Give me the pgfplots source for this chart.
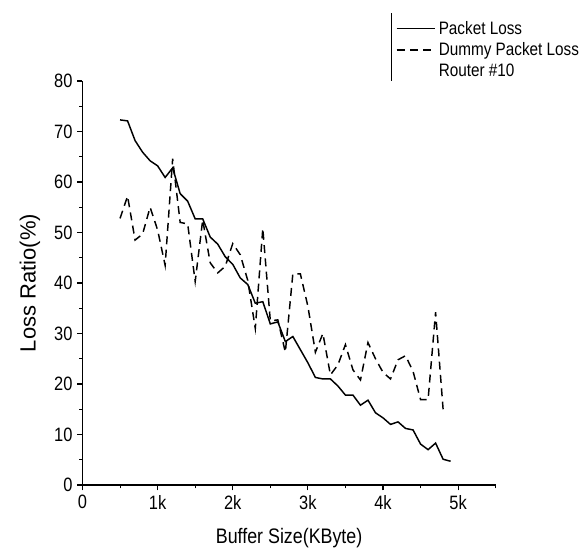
\documentclass[border=0pt]{standalone}
\usepackage{fontspec}
\setmainfont{Liberation Sans}[FakeStretch=0.85]
\newfontfamily\ylfont{Liberation Sans}
\usepackage{pgfplots}
\usepackage{pgfplotstable}
\pgfplotsset{compat=1.18}
\pgfplotstableread{
x y
500 72.3
600 72.1
700 68.2
800 65.9
900 64.2
1000 63.2
1100 60.9
1200 62.8
1300 57.7
1400 56.2
1500 52.7
1600 52.7
1700 49.1
1800 47.7
1900 45.2
2000 43.7
2100 41.0
2200 39.7
2300 36.0
2400 36.3
2500 31.9
2600 32.3
2700 28.4
2800 29.4
2900 26.8
3000 24.2
3100 21.3
3200 21.0
3300 21.0
3400 19.6
3500 17.8
3600 17.8
3700 15.8
3800 16.8
3900 14.3
4000 13.3
4100 12.0
4200 12.5
4300 11.2
4400 10.9
4500 8.1
4600 7.0
4700 8.3
4800 5.1
4900 4.7
}\packetloss
\pgfplotstableread{
x y
500 52.8
600 57.2
700 48.5
800 49.7
900 55.0
1000 50.5
1100 43.5
1200 64.6
1300 52.0
1400 51.7
1500 40.3
1600 52.5
1700 44.0
1800 42.0
1900 43.3
2000 47.8
2100 45.6
2200 40.5
2300 31.0
2400 50.8
2500 32.5
2600 32.7
2700 26.3
2800 41.8
2900 41.8
3000 35.4
3100 26.3
3200 30.0
3300 21.8
3400 23.8
3500 27.8
3600 22.8
3700 20.8
3800 28.2
3900 25.0
4000 22.3
4100 21.0
4200 24.8
4300 25.6
4400 22.5
4500 16.9
4600 16.9
4700 34.2
4800 15.0
}\dummyloss
\begin{document}
\begin{tikzpicture}
\begin{axis}[
  name=ax,
  scale only axis,
  width=309.9pt, height=303pt,
  xmin=0, xmax=5500, ymin=0, ymax=80,
  clip=false,
  axis x line*=bottom, axis y line*=left,
  axis line style={line width=0.9pt},
  xtick={0,1000,2000,3000,4000,5000},
  xticklabels={0,1k,2k,3k,4k,5k},
  minor xtick={500,1500,2500,3500,4500,5500},
  ytick={0,10,...,80},
  minor ytick={5,15,...,75},
  tick align=outside,
  major tick length=4pt, minor tick length=2.5pt,
  every tick/.style={black, line width=0.8pt},
  tick label style={font=\fontsize{14.5}{17}\selectfont},
  /pgf/number format/assume math mode=true,
  scaled x ticks=false,
  xlabel={Buffer Size(KByte)},
  ylabel={\ylfont Loss Ratio(\%)},
  xlabel style={font=\fontsize{15.75}{18}\selectfont, at={(axis description cs:0.5,-0.131)}, anchor=center},
  ylabel style={font=\fontsize{16.5}{19}\selectfont, at={(axis description cs:-0.127,0.5)}, anchor=center},
  legend style={draw=none, fill=none, at={(axis description cs:0.7483,1.162)}, anchor=north west,
    font=\fontsize{13.5}{16}\selectfont, row sep=0.8pt},
  legend cell align=left,
  legend image code/.code={\draw[#1] (0pt,0pt) -- (29pt,0pt);},
]
\addplot[black, line width=1.1pt, no markers] table[x=x,y=y] {\packetloss};
\addlegendentry{Packet Loss}
\addplot[black, line width=1.1pt, no markers, dash pattern=on 6pt off 4pt] table[x=x,y=y] {\dummyloss};
\addlegendentry{Dummy Packet Loss}
\addlegendimage{empty legend}
\addlegendentry{Router \#10}
\draw[line width=0.9pt] (axis description cs:0.7483,1.1683) -- (axis description cs:0.7483,1.0);
\end{axis}
\pgfresetboundingbox
\path[use as bounding box] ([shift={(-61.875pt,-48.75pt)}]ax.south west) rectangle ([shift={(375.375pt,363.75pt)}]ax.south west);
\end{tikzpicture}
\end{document}
